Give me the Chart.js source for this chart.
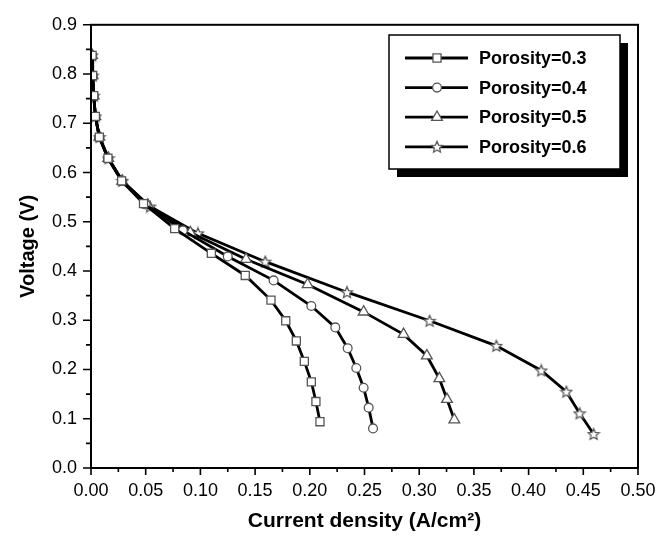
<!DOCTYPE html>
<html>
<head>
<meta charset="utf-8">
<script src="https://cdn.jsdelivr.net/npm/chart.js@4"></script>
<style>
  body { margin: 0; background: #fff; }
  #wrap { width: 669px; height: 536px; }
</style>
</head>
<body>
<div id="wrap"><canvas id="chart" width="669" height="536"></canvas></div>
<script>
const seriesLabels = ['Porosity=0.3', 'Porosity=0.4', 'Porosity=0.5', 'Porosity=0.6'];

const current03 = [0.001, 0.0015, 0.0025, 0.004, 0.0076, 0.0155, 0.028, 0.048, 0.0765, 0.110, 0.141, 0.1645, 0.178, 0.1877, 0.195, 0.2014, 0.2056, 0.2093];
const voltage03 = [0.838, 0.797, 0.756, 0.714, 0.672, 0.629, 0.583, 0.537, 0.486, 0.436, 0.391, 0.341, 0.299, 0.258, 0.2165, 0.175, 0.135, 0.094];

const current04 = [0.001, 0.0015, 0.0025, 0.004, 0.0076, 0.0155, 0.0283, 0.050, 0.084, 0.125, 0.1669, 0.2014, 0.2233, 0.2346, 0.2425, 0.2492, 0.2538, 0.2578];
const voltage04 = [0.838, 0.797, 0.756, 0.714, 0.672, 0.629, 0.583, 0.535, 0.4825, 0.4296, 0.381, 0.329, 0.2855, 0.2433, 0.203, 0.163, 0.1226, 0.0804];

const current05 = [0.001, 0.0015, 0.0025, 0.004, 0.0076, 0.0158, 0.0285, 0.052, 0.0908, 0.1417, 0.198, 0.2492, 0.2857, 0.307, 0.3184, 0.3254, 0.3321];
const voltage05 = [0.838, 0.797, 0.756, 0.714, 0.672, 0.629, 0.583, 0.534, 0.478, 0.424, 0.3727, 0.317, 0.2714, 0.228, 0.1817, 0.1395, 0.098];

const current06 = [0.001, 0.0015, 0.0025, 0.004, 0.0078, 0.016, 0.0287, 0.054, 0.0978, 0.1593, 0.234, 0.3095, 0.3705, 0.4116, 0.4345, 0.4466, 0.4594];
const voltage06 = [0.838, 0.797, 0.756, 0.714, 0.672, 0.629, 0.583, 0.531, 0.4765, 0.419, 0.357, 0.299, 0.248, 0.198, 0.155, 0.111, 0.069];

const FONT = '"Liberation Sans", Arial, Helvetica, sans-serif';
const markerEdge = '#555';

// five point star, chart.js 'star' is an asterisk so build our own
function makeStar(size) {
  const c = document.createElement('canvas');
  c.width = size; c.height = size;
  const g = c.getContext('2d');
  const cx = size / 2, cy = size / 2 + 0.5;
  const ro = size / 2 - 1, ri = ro * 0.45;
  g.beginPath();
  for (let i = 0; i < 10; i++) {
    const r = i % 2 === 0 ? ro : ri;
    const a = -Math.PI / 2 + i * Math.PI / 5;
    const px = cx + r * Math.cos(a), py = cy + r * Math.sin(a);
    if (i === 0) g.moveTo(px, py); else g.lineTo(px, py);
  }
  g.closePath();
  g.fillStyle = '#fff';
  g.fill();
  g.lineWidth = 1.2;
  g.strokeStyle = markerEdge;
  g.stroke();
  return c;
}
const starImg = makeStar(14);

function toPoints(xs, ys) {
  return xs.map((x, i) => ({ x: x, y: ys[i] }));
}

function makeSet(label, xs, ys, style, radius) {
  return {
    label: label,
    data: toPoints(xs, ys),
    borderColor: '#000',
    borderWidth: 2.8,
    pointStyle: style,
    pointRadius: radius,
    pointBackgroundColor: '#fff',
    pointBorderColor: markerEdge,
    pointBorderWidth: 1.3,
    fill: false,
    tension: 0,
  };
}

// top/right frame, tick marks and the boxed legend
const framePlugin = {
  id: 'frame',
  afterDraw(chart) {
    const ctx = chart.ctx;
    const a = chart.chartArea;
    const xs = chart.scales.x, ys = chart.scales.y;
    ctx.save();
    ctx.strokeStyle = '#000';
    ctx.lineWidth = 2;
    ctx.strokeRect(a.left, a.top, a.right - a.left, a.bottom - a.top);

    ctx.lineWidth = 1.6;
    ctx.beginPath();
    xs.ticks.forEach((t, i) => {
      const px = xs.getPixelForTick(i);
      const len = i % 2 === 0 ? 7 : 4;
      ctx.moveTo(px, a.bottom);
      ctx.lineTo(px, a.bottom + len);
    });
    ys.ticks.forEach((t, i) => {
      const py = ys.getPixelForTick(i);
      const len = i % 2 === 0 ? 8 : 5;
      ctx.moveTo(a.left, py);
      ctx.lineTo(a.left - len, py);
    });
    ctx.stroke();

    // legend
    const bx = 389, by = 35, bw = 231, bh = 134;
    ctx.fillStyle = '#000';
    ctx.fillRect(bx + 8, by + 8, bw, bh);
    ctx.fillStyle = '#fff';
    ctx.fillRect(bx, by, bw, bh);
    ctx.lineWidth = 1.5;
    ctx.strokeRect(bx, by, bw, bh);

    chart.data.datasets.forEach((ds, i) => {
      const y = 58 + i * 29.6;
      ctx.strokeStyle = '#000';
      ctx.lineWidth = 2.8;
      ctx.beginPath();
      ctx.moveTo(405, y);
      ctx.lineTo(468, y);
      ctx.stroke();
      drawMarker(ctx, ds.pointStyle, 437, y, ds.pointRadius);
      ctx.fillStyle = '#000';
      ctx.font = 'bold 18px ' + FONT;
      ctx.textBaseline = 'middle';
      ctx.textAlign = 'left';
      ctx.fillText(ds.label, 479, y + 1);
    });
    ctx.restore();
  }
};

function drawMarker(ctx, style, x, y, r) {
  if (style instanceof HTMLCanvasElement) {
    ctx.drawImage(style, x - style.width / 2, y - style.height / 2);
    return;
  }
  ctx.save();
  ctx.fillStyle = '#fff';
  ctx.strokeStyle = markerEdge;
  ctx.lineWidth = 1.3;
  ctx.beginPath();
  if (style === 'rect') {
    const s = r * Math.SQRT1_2;
    ctx.rect(x - s, y - s, 2 * s, 2 * s);
  } else if (style === 'circle') {
    ctx.arc(x, y, r, 0, Math.PI * 2);
  } else if (style === 'triangle') {
    ctx.moveTo(x, y - r);
    ctx.lineTo(x + r * Math.sin(Math.PI / 3), y + r * 0.5);
    ctx.lineTo(x - r * Math.sin(Math.PI / 3), y + r * 0.5);
    ctx.closePath();
  }
  ctx.fill();
  ctx.stroke();
  ctx.restore();
}

new Chart(document.getElementById('chart').getContext('2d'), {
  type: 'line',
  data: {
    datasets: [
      makeSet(seriesLabels[0], current03, voltage03, 'rect', 5.7),
      makeSet(seriesLabels[1], current04, voltage04, 'circle', 4.4),
      makeSet(seriesLabels[2], current05, voltage05, 'triangle', 6.2),
      makeSet(seriesLabels[3], current06, voltage06, starImg, 6),
    ]
  },
  options: {
    responsive: false,
    animation: false,
    layout: { padding: { left: 0, right: 31, top: 20, bottom: 0 } },
    plugins: {
      legend: { display: false },
      tooltip: { enabled: false }
    },
    scales: {
      x: {
        type: 'linear',
        min: 0,
        max: 0.5,
        afterFit(scale) { scale.height = 68; },
        grid: { display: false, drawTicks: false },
        border: { display: true, color: '#000', width: 2 },
        ticks: {
          stepSize: 0.025,
          autoSkip: false,
          maxRotation: 0,
          padding: 12,
          color: '#000',
          font: { family: FONT, size: 18 },
          callback(v, i) { return i % 2 === 0 ? v.toFixed(2) : ''; }
        },
        title: {
          display: true,
          text: 'Current density (A/cm²)',
          color: '#000',
          font: { family: FONT, size: 21, weight: 'bold' },
          padding: { top: 0, bottom: 2 }
        }
      },
      y: {
        type: 'linear',
        min: 0,
        max: 0.9,
        afterFit(scale) { scale.width = 91; },
        grid: { display: false, drawTicks: false },
        border: { display: true, color: '#000', width: 2 },
        ticks: {
          stepSize: 0.05,
          autoSkip: false,
          padding: 14,
          color: '#000',
          font: { family: FONT, size: 18 },
          callback(v, i) { return i % 2 === 0 ? v.toFixed(1) : ''; }
        },
        title: {
          display: true,
          text: 'Voltage (V)',
          color: '#000',
          font: { family: FONT, size: 20, weight: 'bold' },
          padding: { top: 16, bottom: 0 }
        }
      }
    }
  },
  plugins: [framePlugin]
});
</script>
</body>
</html>
